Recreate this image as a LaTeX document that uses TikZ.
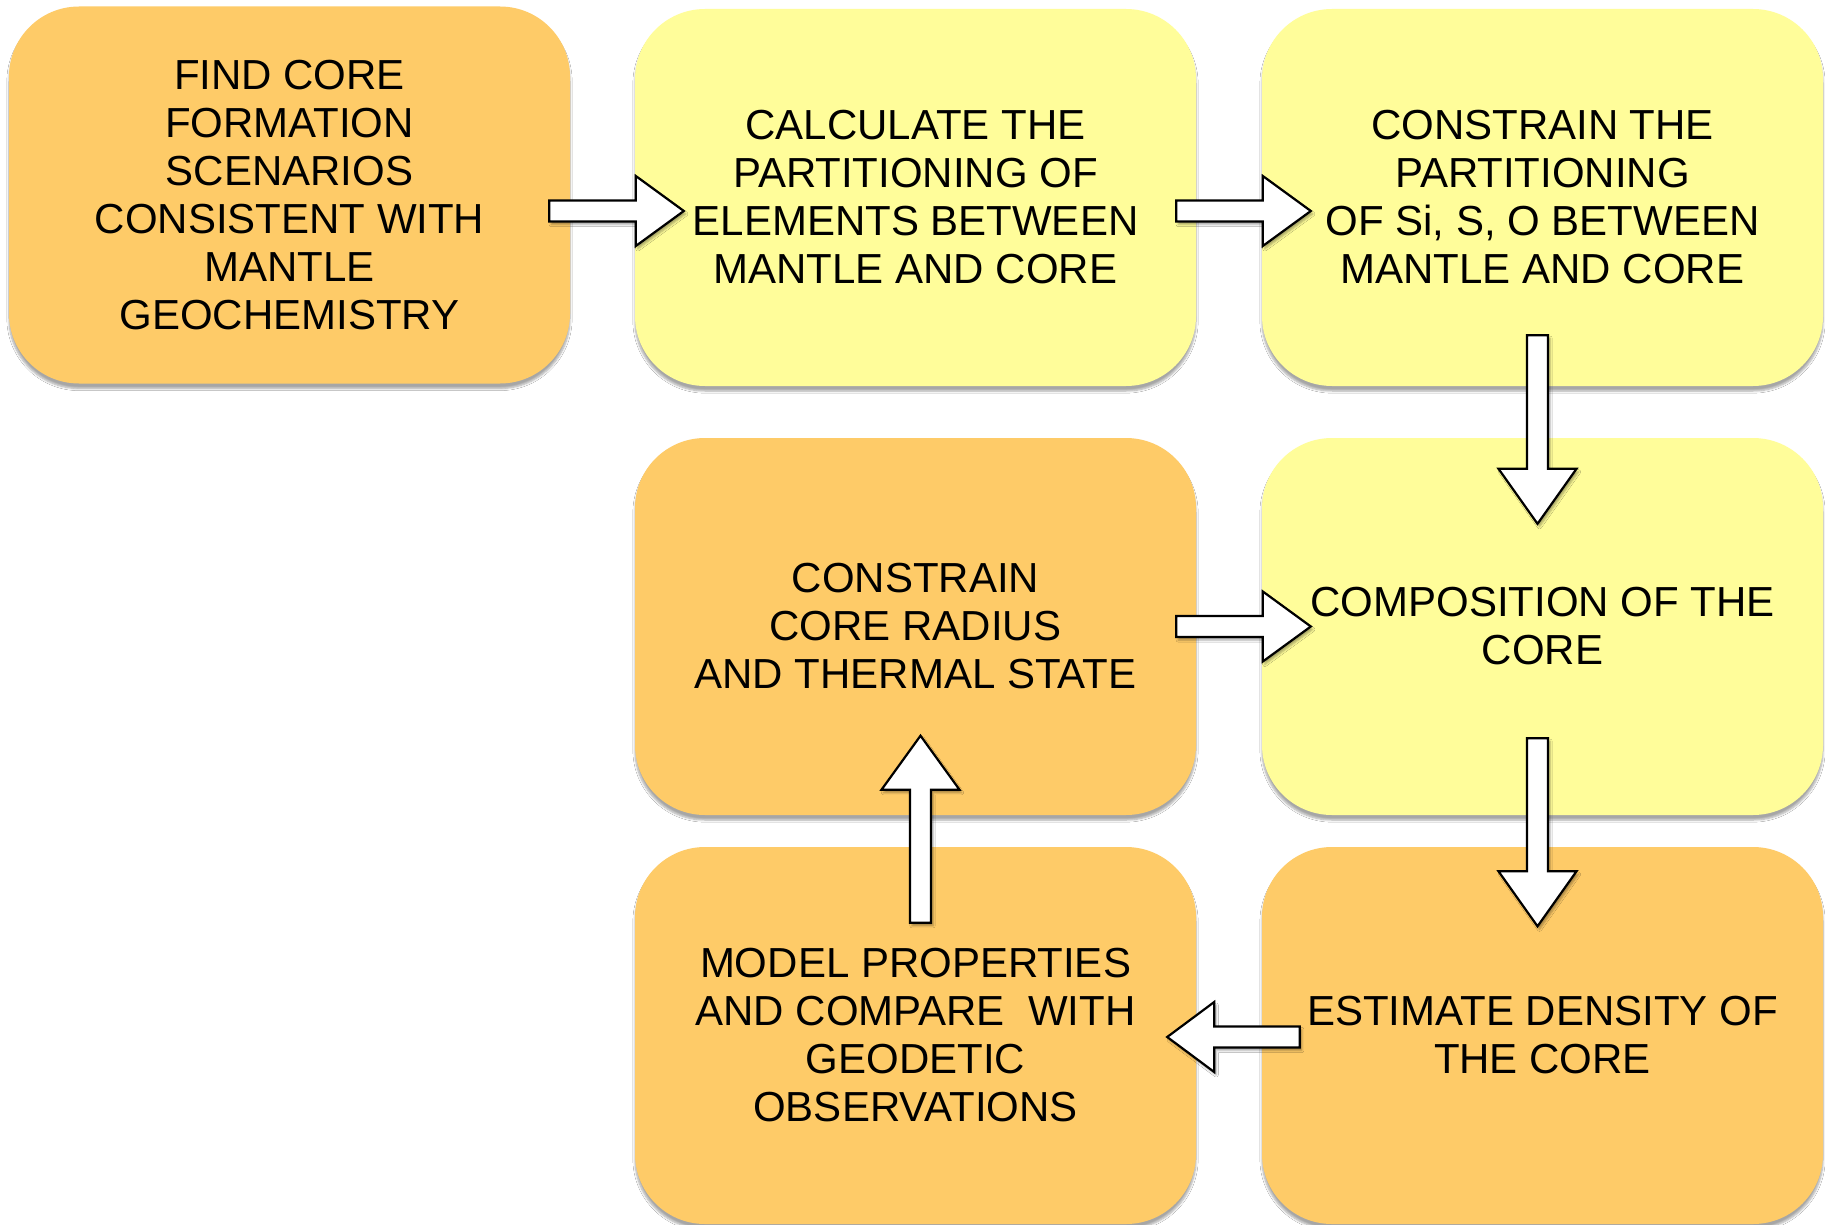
\documentclass[tikz,border=0pt]{standalone}
\usepackage{fontspec}
\setmainfont{Liberation Sans}
\usetikzlibrary{calc,shadows.blur}
\definecolor{boxorange}{RGB}{254,203,104}
\definecolor{boxyellow}{RGB}{255,253,154}
\tikzset{
  stepbox/.style={rounded corners=70pt, minimum width=561pt, minimum height=377pt,
    inner sep=0pt, align=center, font=\fontsize{42}{48}\selectfont,
    blur shadow={shadow xshift=0pt, shadow yshift=-5pt, shadow blur steps=6, shadow opacity=35}},
  orangebox/.style={stepbox, fill=boxorange},
  yellowbox/.style={stepbox, fill=boxyellow},
  blockarrow/.style={draw=black, line width=2.2pt, fill=white, line join=miter,
    blur shadow={shadow xshift=2pt, shadow yshift=-3pt, shadow blur steps=4, shadow opacity=35}}
}
% #1 start, #2 tip, #3 shaft half-width, #4 head half-width, #5 head length
\newcommand{\myblockarrow}[5]{%
  \coordinate (hb) at ($(#2)!#5!(#1)$);
  \path[blockarrow] ($(#1)!#3!90:(#2)$) -- ($(hb)!#3!-90:(#1)$) -- ($(hb)!#4!-90:(#1)$)
    -- (#2) -- ($(hb)!#4!90:(#1)$) -- ($(hb)!#3!90:(#1)$) -- ($(#1)!#3!-90:(#2)$) -- cycle;
}
\begin{document}
\begin{tikzpicture}[x=1pt,y=1pt]
\useasboundingbox[fill=white] (0,0) rectangle (1825,-1225);
\node[orangebox] (b1) at (289.5,-195) {FIND CORE\\FORMATION\\SCENARIOS\\CONSISTENT WITH\\MANTLE\\GEOCHEMISTRY};
\node[yellowbox] (b2) at (915.5,-197.5) {CALCULATE THE\\PARTITIONING OF\\ELEMENTS BETWEEN\\MANTLE AND CORE};
\node[yellowbox] (b3) at (1542.5,-197.5) {CONSTRAIN THE\\PARTITIONING\\OF Si, S, O BETWEEN\\MANTLE AND CORE};
\node[orangebox] (b4) at (915.5,-626.5) {CONSTRAIN\\CORE RADIUS\\AND THERMAL STATE};
\node[yellowbox] (b5) at (1542.5,-626.5) {COMPOSITION OF THE\\CORE};
\node[orangebox] (b6) at (915.5,-1035.5) {MODEL PROPERTIES\\AND COMPARE\ \ WITH\\GEODETIC\\OBSERVATIONS};
\node[orangebox] (b7) at (1542.5,-1035.5) {ESTIMATE DENSITY OF\\THE CORE};
% connector end points
\coordinate (a1s) at ($(b1.east)+(-21,-16)$);
\coordinate (a1t) at ($(b2.west)+(49,-13.5)$);
\coordinate (a2s) at ($(b2.east)+(-20,-13.5)$);
\coordinate (a2t) at ($(b3.west)+(49,-13.5)$);
\coordinate (a3s) at ($(b3.south)+(-5,51)$);
\coordinate (a3t) at ($(b5.north)+(-5,-86)$);
\coordinate (a4s) at ($(b4.east)+(-20,0)$);
\coordinate (a4t) at ($(b5.west)+(49,0)$);
\coordinate (a5s) at ($(b5.south)+(-5,77)$);
\coordinate (a5t) at ($(b7.north)+(-5,-79.5)$);
\coordinate (a6s) at ($(b7.west)+(38,-1.5)$);
\coordinate (a6t) at ($(b6.east)+(-29,-1.5)$);
\coordinate (a7s) at ($(b6.north)+(5,-76)$);
\coordinate (a7t) at ($(b4.south)+(5,79.5)$);
\myblockarrow{a1s}{a1t}{10.5pt}{35pt}{48pt}
\myblockarrow{a2s}{a2t}{10.5pt}{35pt}{48pt}
\myblockarrow{a3s}{a3t}{10.5pt}{39pt}{55pt}
\myblockarrow{a4s}{a4t}{10.5pt}{35pt}{48pt}
\myblockarrow{a5s}{a5t}{10.5pt}{39pt}{55pt}
\myblockarrow{a6s}{a6t}{10.5pt}{35pt}{47pt}
\myblockarrow{a7s}{a7t}{10.5pt}{39pt}{54pt}
\end{tikzpicture}
\end{document}
